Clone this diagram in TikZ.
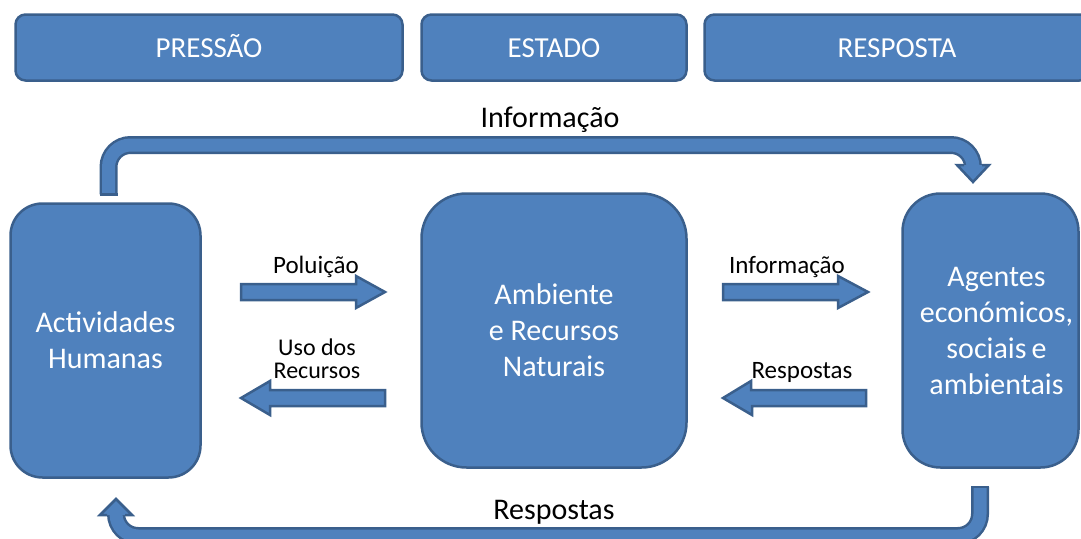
\documentclass[tikz,border=0pt]{standalone}
\usepackage{fontspec}
\setmainfont{Carlito}
\usetikzlibrary{calc}
\definecolor{bfill}{HTML}{4F81BD}
\definecolor{bdraw}{HTML}{3A5F8C}
\begin{document}
\begin{tikzpicture}[x=1pt,y=-1pt,
  hdr/.style={draw=bdraw, fill=bfill, line width=2.5pt, rounded corners=10pt, text=white,
    font=\fontsize{29}{35}\selectfont, inner sep=0pt, text height=19pt, text depth=0pt},
  mainbox/.style={draw=bdraw, fill=bfill, line width=2.5pt, text=white,
    font=\fontsize{30}{36}\selectfont, align=center, inner sep=0pt},
  boxtext/.style={text=white, font=\fontsize{30}{36}\selectfont, align=center, inner sep=0pt},
  blk/.style={draw=bdraw, fill=bfill, line width=2.5pt, line join=miter},
  bent/.style={draw=bdraw, line width=2.5pt, double=bfill, double distance=13pt, line cap=butt},
  lbl/.style={font=\fontsize{25}{21}\selectfont, align=center, inner sep=0pt},
  lbltwo/.style={font=\fontsize{24}{22.5}\selectfont, align=center, inner sep=0pt},
  biglbl/.style={font=\fontsize{30}{36}\selectfont, inner sep=0pt}]
\useasboundingbox (0,0) rectangle (1081,538);
\clip (0,0) rectangle (1081,538);

% headers
\node[hdr, minimum width=387pt, minimum height=66pt] (pre) at (209,47.5) {PRESSÃO};
\node[hdr, minimum width=265pt, minimum height=66pt] (est) at (554,47.5) {ESTADO};
\node[hdr, minimum width=385pt, minimum height=66pt] (res) at (897,47.5) {RESPOSTA};

% main boxes
\node[mainbox, rounded corners=32pt, minimum width=190pt, minimum height=274pt] (act) at (105.5,340.5)
  {Actividades\\Humanas};
\node[mainbox, rounded corners=45pt, minimum width=265pt, minimum height=274pt] (amb) at (554,330.5)
  {Ambiente\\e Recursos\\Naturais};
\node[mainbox, rounded corners=38pt, minimum width=176pt, minimum height=274pt] (age) at (990.5,330.5) {};
\node[boxtext] (agetxt) at ($(age.center)+(6,0)$) {Agentes\\económicos,\\sociais\,e\\ambientais};

% straight block arrows
\coordinate (p1) at (241,292);
\filldraw[blk] (p1) ++(0,-8) -- ++(115,0) -- ++(0,-8) -- (385,292) -- (356,308) -- ++(0,-8) -- (241,300) -- cycle;
\coordinate (p2) at (385,398);
\filldraw[blk] (p2) ++(0,-8) -- ++(-115,0) -- ++(0,-9) -- (241,398) -- (270,415) -- ++(0,-9) -- (385,406) -- cycle;
\coordinate (p3) at (723,292);
\filldraw[blk] (p3) ++(0,-8) -- ++(115,0) -- ++(0,-8) -- (868,292) -- (838,308) -- ++(0,-8) -- (723,300) -- cycle;
\coordinate (p4) at (866,398);
\filldraw[blk] (p4) ++(0,-8) -- ++(-115,0) -- ++(0,-9) -- (723,398) -- (752,415) -- ++(0,-9) -- (866,406) -- cycle;

% top bent arrow
\coordinate (t0) at ($(act.north)+(3,-8)$);
\coordinate (t1) at (973,165);
\draw[bent, rounded corners=22pt] (t0) -- (t0 |- 0,145) -- (973,145) -- (t1);
\draw[bdraw, line width=2.5pt] ($(t0)+(-9,0)$) -- ($(t0)+(9,0)$);
\filldraw[blk] ($(t1)+(-9,0)$) -- ($(t1)+(-16,0)$) -- (973,182) -- ($(t1)+(16,0)$) -- ($(t1)+(9,0)$);

% bottom bent arrow
\coordinate (b0) at ($(age.south)+(-10.5,18)$);
\coordinate (b1) at (116,515);
\draw[bent, rounded corners=22pt] (b0) -- (b0 |- 0,536) -- (116,536) -- (b1);
\draw[bdraw, line width=2.5pt] ($(b0)+(-9,0)$) -- ($(b0)+(9,0)$);
\filldraw[blk] ($(b1)+(9,0)$) -- ($(b1)+(16,0)$) -- (116,499) -- ($(b1)+(-16,0)$) -- ($(b1)+(-9,0)$);

% labels
\node[lbl, anchor=base] (l1) at (316,273) {Poluição};
\node[lbltwo, anchor=base] (l2) at (317,378) {Uso dos\\Recursos};
\node[lbl, anchor=base] (l3) at (787,273) {Informação};
\node[lbl, anchor=base] (l4) at (802,378) {Respostas};
\node[biglbl, anchor=base] (l5) at (550,127) {Informação};
\node[biglbl, anchor=base] (l6) at (554,519) {Respostas};
\end{tikzpicture}
\end{document}
